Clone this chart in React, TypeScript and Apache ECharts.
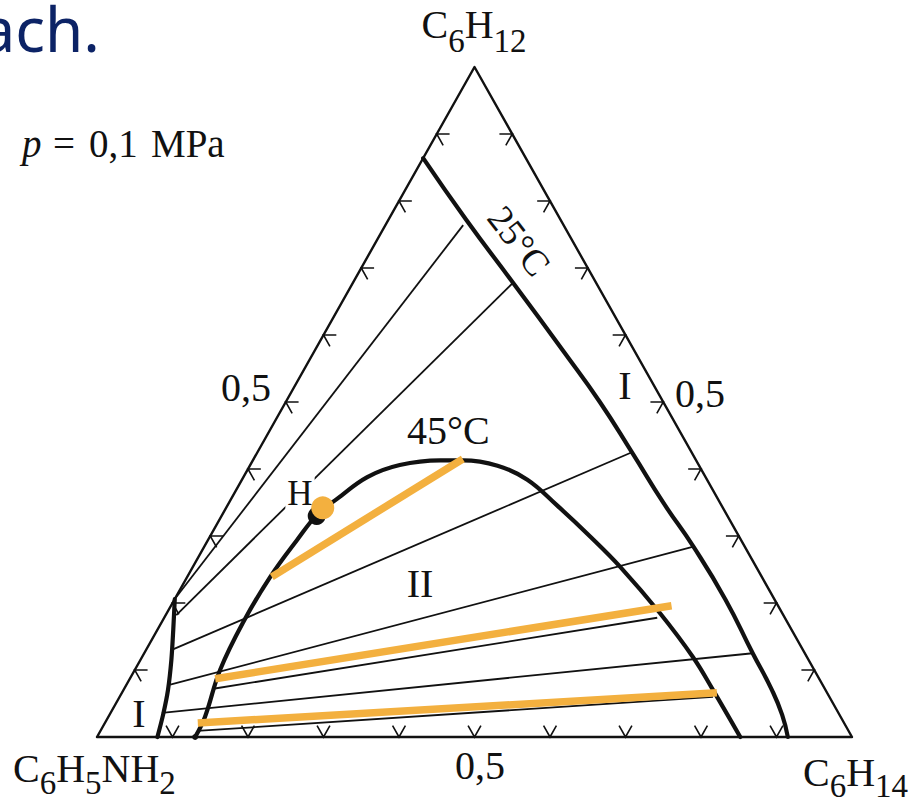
import React, { useEffect, useRef } from "react";
import * as echarts from "echarts";

// Compositions are [x(C6H14), x(C6H12)]; x(C6H5NH2) = 1 - both.
type Comp = [number, number];

const binodal25HexaneRich: Comp[] = [
  [0, 0.864], [0.103, 0.772], [0.212, 0.678], [0.333, 0.573], [0.416, 0.5],
  [0.497, 0.424], [0.576, 0.349], [0.648, 0.284], [0.73, 0.205], [0.806, 0.125],
  [0.859, 0.07], [0.891, 0.033], [0.915, 0],
];
const binodal25AnilineRich: Comp[] = [
  [0, 0.206], [0.021, 0.16], [0.041, 0.115], [0.059, 0.07], [0.071, 0.033], [0.08, 0],
];
const tieLines25: [Comp, Comp][] = [
  [[0, 0.206], [0.103, 0.764]],
  [[0.014, 0.182], [0.212, 0.678]],
  [[0.034, 0.13], [0.496, 0.425]],
  [[0.058, 0.078], [0.648, 0.284]],
  [[0.068, 0.036], [0.806, 0.125]],
];
const binodal45: Comp[] = [
  [0.13, 0], [0.128, 0.03], [0.113, 0.1], [0.108, 0.172], [0.11, 0.239], [0.118, 0.294],
  [0.126, 0.333], [0.14, 0.355], [0.164, 0.388], [0.198, 0.406], [0.248, 0.413],
  [0.278, 0.413], [0.328, 0.405], [0.378, 0.384], [0.436, 0.346], [0.504, 0.299],
  [0.566, 0.254], [0.653, 0.185], [0.73, 0.119], [0.781, 0.07], [0.852, 0],
];
const tieLines45: [Comp, Comp][] = [
  [[0.118, 0.072], [0.653, 0.178]],
  [[0.128, 0.009], [0.786, 0.06]],
];
const highlightedTieLines45: [Comp, Comp][] = [
  [[0.112, 0.239], [0.277, 0.415]],
  [[0.113, 0.087], [0.663, 0.196]],
  [[0.123, 0.021], [0.788, 0.066]],
];
const plaitPoint45: Comp = [0.126, 0.33];
const markedPointH: Comp = [0.128, 0.342];
const binodal45Foot: Comp = [0.13, 0];
const tickFractions = [0.1, 0.2, 0.3, 0.4, 0.5, 0.6, 0.7, 0.8, 0.9];
const midLabel = "0,5";
const topVertex = ["C", "6", "H", "12"];
const leftVertex = ["C", "6", "H", "5", "NH", "2"];
const rightVertex = ["C", "6", "H", "14"];

const SERIF = '"Liberation Serif", "Times New Roman", serif';
const INK = "#111111";
const ORANGE = "#F3B03F";
const NAVY = "#0c2366";
const CENTRAL = 0.3375; // central baseline offset of Liberation Serif, in em

const toXY = ([b, c]: Comp): number[] => [b + c / 2, c];
const ARM = 0.017;

function lineSeries(points: Comp[], width: number, z: number, smooth: number | boolean = false) {
  return {
    type: "line",
    data: points.map(toXY),
    symbol: "none",
    smooth,
    clip: false,
    silent: true,
    z,
    lineStyle: { color: INK, width, cap: "round", join: "round" },
  };
}

function segSeries(segs: Comp[][], color: string, width: number, z: number, cap = "butt") {
  return {
    type: "lines",
    coordinateSystem: "cartesian2d",
    polyline: true,
    silent: true,
    clip: false,
    z,
    lineStyle: { color, width, opacity: 1, curveness: 0, cap, join: "miter" },
    data: segs.map((s) => ({ coords: s.map(toXY) })),
  };
}

let measureCtx: CanvasRenderingContext2D | null = null;
function measure(text: string, font: string) {
  if (!measureCtx) measureCtx = document.createElement("canvas").getContext("2d");
  measureCtx!.font = font;
  return measureCtx!.measureText(text).width;
}

function serifText(text: string, x: number, baseline: number, size: number, align = "left", extra: any = {}) {
  return {
    type: "text",
    x,
    y: baseline - CENTRAL * size,
    z: 50,
    ...extra,
    style: {
      text,
      font: `${extra.italic ? "italic " : ""}${size}px ${SERIF}`,
      fill: INK,
      align,
      verticalAlign: "middle",
      ...(extra.style || {}),
    },
  };
}

function formula(parts: string[], x: number, baseline: number, align: "left" | "center", drop = 14) {
  const MAIN = 40, SUB = 33;
  const widths = parts.map((p, i) => measure(p, `${i % 2 ? SUB : MAIN}px ${SERIF}`));
  const total = widths.reduce((a, b) => a + b, 0);
  let cx = align === "center" ? x - total / 2 : x;
  return parts.map((p, i) => {
    const sub = i % 2 === 1;
    const el = serifText(p, cx, baseline + (sub ? drop : 0), sub ? SUB : MAIN);
    cx += widths[i];
    return el;
  });
}

export default function App() {
  const ref = useRef<HTMLDivElement>(null);
  useEffect(() => {
    document.body.style.margin = "0";
    if (!ref.current) return;
    const chart = echarts.init(ref.current, undefined, { renderer: "svg" });

    const ticks: Comp[][] = [];
    tickFractions.forEach((f) => {
      ticks.push([[f, ARM], [f, 0], [f - ARM, ARM]]);
      ticks.push([[ARM, f], [0, f], [ARM, f - ARM]]);
      ticks.push([[1 - f - ARM, f], [1 - f, f], [1 - f, f - ARM]]);
    });

    chart.setOption({
      animation: false,
      grid: { left: 97, right: 65, top: 67, bottom: 66, containLabel: false },
      xAxis: { type: "value", min: 0, max: 1, show: false },
      yAxis: { type: "value", min: 0, max: 1, show: false },
      series: [
        lineSeries([[0, 0], [1, 0], [0, 1], [0, 0]], 2.4, 3),
        segSeries(ticks, INK, 1.6, 3),
        segSeries(tieLines25, INK, 1.8, 4),
        segSeries(tieLines45, INK, 1.8, 4),
        lineSeries(binodal25HexaneRich, 4.2, 5, 0.5),
        lineSeries(binodal25AnilineRich, 4.2, 5, 0.3),
        lineSeries(binodal45, 4.2, 5, 0.4),
        segSeries(highlightedTieLines45, ORANGE, 7.5, 6),
        {
          type: "scatter",
          data: [toXY(plaitPoint45), toXY(binodal45Foot)],
          symbolSize: (v: number[]) => (v[1] > 0 ? 18 : 6),
          itemStyle: { color: INK, opacity: 1 },
          silent: true,
          clip: false,
          z: 7,
        },
        {
          type: "scatter",
          data: [toXY(markedPointH)],
          symbolSize: 23,
          itemStyle: { color: ORANGE, opacity: 1 },
          silent: true,
          clip: false,
          z: 8,
        },
      ],
      graphic: [
        {
          type: "text", x: 100, y: 28, z: 50,
          style: { text: "ach.", font: '62px "Noto Sans", sans-serif', fill: NAVY, align: "right", verticalAlign: "middle" },
        },
        serifText("p", 22, 157, 39, "left", { italic: true }),
        serifText("=", 53, 157, 39),
        serifText("0,1", 89, 157, 39),
        serifText("MPa", 151, 157, 39),
        ...formula(topVertex, 474, 38, "center"),
        ...formula(leftVertex, 13, 782, "left", 12),
        ...formula(rightVertex, 803, 786, "left", 11),
        serifText(midLabel, 221, 401, 40),
        serifText(midLabel, 675, 407, 40),
        serifText(midLabel, 455, 779, 40),
        serifText("45°C", 407, 444, 40),
        {
          type: "text", x: 519, y: 241, z: 50, rotation: -0.91,
          style: { text: "25°C", font: `37px ${SERIF}`, fill: INK, align: "center", verticalAlign: "middle" },
        },
        serifText("I", 625, 399, 40, "center"),
        serifText("I", 139, 727, 40, "center"),
        serifText("II", 420, 597, 40, "center"),
        serifText("H", 300, 505, 35, "center", {
          z: 5,
          style: { backgroundColor: "#ffffff", padding: [0, 2, 0, 2] },
        }),
      ],
    });
    return () => chart.dispose();
  }, []);
  return <div ref={ref} style={{ width: 917, height: 803, background: "#ffffff" }} />;
}
